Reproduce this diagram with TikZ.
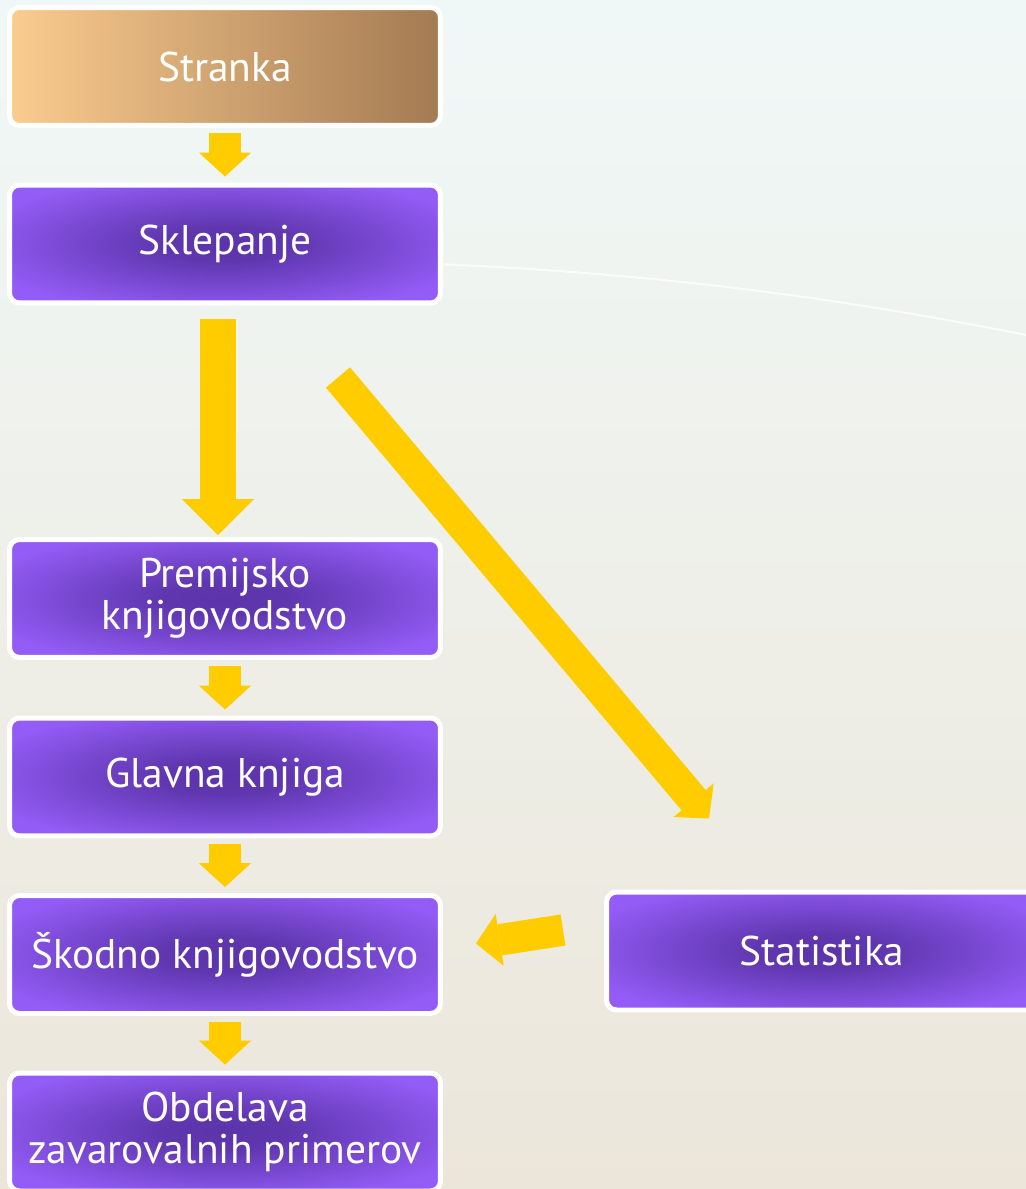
\documentclass[tikz,border=0pt]{standalone}
\usepackage{fontspec}
\setmainfont{PT Sans}
\usetikzlibrary{arrows.meta,calc}

\definecolor{rumena}{RGB}{255,204,0}
\definecolor{vijolrob}{RGB}{148,92,247}
\definecolor{vijolsred}{RGB}{92,52,170}
\definecolor{breskev}{RGB}{251,204,143}
\definecolor{rjava}{RGB}{163,122,82}
\definecolor{ozadjezg}{RGB}{240,248,247}
\definecolor{ozadjesr}{RGB}{245,246,238}
\definecolor{ozadjesp}{RGB}{236,230,218}

% temnejse sredisce okvirjev
\pgfdeclareradialshading{vijolica}{\pgfpoint{0bp}{0bp}}{%
  color(0bp)=(vijolsred); color(7bp)=(vijolsred!95!vijolrob);
  color(30bp)=(vijolrob); color(50bp)=(vijolrob)}

\begin{document}
\begin{tikzpicture}[x=0.02cm,y=-0.02cm,
  okvir/.style={draw=white, line width=0.1cm, rounded corners=0.2cm,
    minimum width=8.62cm, minimum height=2.36cm, inner sep=0pt,
    shade, shading=vijolica,
    text=white, align=center, font=\fontsize{23.6}{24}\selectfont},
  puscica/.style={draw=rumena, line width=0.63cm,
    -{Triangle[length=0.48cm,width=1.05cm,line width=0pt]}},
  velika/.style={draw=rumena, line width=0.72cm,
    -{Triangle[length=0.72cm,width=1.44cm,line width=0pt]}}]

\useasboundingbox (0,0) rectangle (1026,1189);
\clip (0,0) rectangle (1026,1189);

% ozadje
\shade[top color=ozadjezg, middle color=ozadjesr, bottom color=ozadjesp] (0,0) rectangle (1026,1189);
\draw[white, line width=1.2pt, opacity=0.7] (380,262) .. controls (650,270) and (850,300) .. (1026,335);

% levi stolpec
\node[okvir, left color=breskev, right color=rjava] (stran) at (225,66.5) {Stranka};
\node[okvir] (sklep) at (225,244) {Sklepanje};
\node[okvir] (prem) at (225,598.5) {Premijsko\\knjigovodstvo};
\node[okvir] (glav) at (225,777) {Glavna knjiga};
\node[okvir] (skod) at (225,954.5) {Škodno knjigovodstvo};
\node[okvir] (obd) at (225,1132) {Obdelava\\zavarovalnih primerov};

% desno
\node[okvir] (stat) at (822,951) {Statistika};

\draw[puscica, shorten <=0.1cm, shorten >=0.12cm] (stran) -- (sklep);
\draw[velika, shorten <=0.28cm, shorten >=0.04cm] ([xshift=-0.14cm]sklep.south) -- ([xshift=-0.14cm]prem.north);
\draw[puscica, shorten <=0.12cm, shorten >=0.12cm] (prem) -- (glav);
\draw[puscica, shorten <=0.12cm, shorten >=0.12cm] (glav) -- (skod);
\draw[puscica, shorten <=0.12cm, shorten >=0.12cm] (skod) -- (obd);

\draw[puscica] ($(sklep.south east)+(-105,72)$) -- ($(stat.north west)+(105,-71)$);
\draw[puscica] ($(stat.west)+(-41,-21)$) -- ($(skod.east)+(33,-11)$);

\end{tikzpicture}
\end{document}
